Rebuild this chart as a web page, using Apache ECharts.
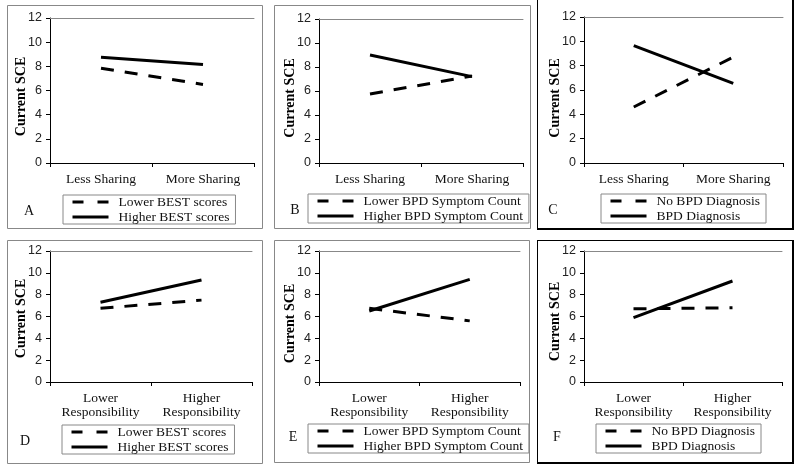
<!DOCTYPE html>
<html>
<head>
<meta charset="utf-8">
<script src="https://cdn.jsdelivr.net/npm/echarts@6/dist/echarts.min.js"></script>
<style>html,body{margin:0;padding:0;background:#fff;}#c{width:800px;height:470px;}</style>
</head>
<body>
<div id="c"></div>
<script>
// ---- data ----
const sharingCats = ['Less Sharing', 'More Sharing'];
const respCats = ['Lower\nResponsibility', 'Higher\nResponsibility'];
const yTicks = [0, 2, 4, 6, 8, 10, 12];

const lowerBEST_share = [7.85, 6.5];
const higherBEST_share = [8.75, 8.15];
const lowerBPD_share = [5.75, 7.25];
const higherBPD_share = [9.0, 7.2];
const noBPD_share = [4.6, 8.7];
const bpd_share = [9.65, 6.55];

const lowerBEST_resp = [6.75, 7.5];
const higherBEST_resp = [7.3, 9.35];
const lowerBPD_resp = [6.75, 5.6];
const higherBPD_resp = [6.5, 9.4];
const noBPD_resp = [6.7, 6.8];
const bpd_resp = [5.9, 9.25];

const panelLetters = ['A', 'B', 'C', 'D', 'E', 'F'];
const namesBEST = ['Lower BEST scores', 'Higher BEST scores'];
const namesBPD = ['Lower BPD Symptom Count', 'Higher BPD Symptom Count'];
const namesDx = ['No BPD Diagnosis', 'BPD Diagnosis'];

// ---- layout ----
const panels = [
  {grid: {left: 50, top: 18, width: 204, height: 145}, cats: sharingCats, names: namesBEST, data: [lowerBEST_share, higherBEST_share], legend: {left: 63, top: 195}, letter: [29, 211], nameShift: 6},
  {grid: {left: 319, top: 19, width: 204, height: 144}, cats: sharingCats, names: namesBPD, data: [lowerBPD_share, higherBPD_share], legend: {left: 308, top: 194}, letter: [295, 210], nameShift: 7},
  {grid: {left: 584, top: 17, width: 199, height: 146}, cats: sharingCats, names: namesDx, data: [noBPD_share, bpd_share], legend: {left: 601, top: 194}, letter: [553, 210], nameShift: 8},
  {grid: {left: 50, top: 251, width: 202, height: 131}, cats: respCats, names: namesBEST, data: [lowerBEST_resp, higherBEST_resp], legend: {left: 62, top: 425}, letter: [25, 441], nameShift: 2},
  {grid: {left: 319, top: 251, width: 201, height: 131}, cats: respCats, names: namesBPD, data: [lowerBPD_resp, higherBPD_resp], legend: {left: 308, top: 424}, letter: [293, 437], nameShift: 7},
  {grid: {left: 584, top: 251, width: 198, height: 131}, cats: respCats, names: namesDx, data: [noBPD_resp, bpd_resp], legend: {left: 596, top: 424}, letter: [557, 437], nameShift: 5}
];

const serif = 'Liberation Serif';
const sans = 'Liberation Sans';
const dashPattern = [13, 11];
const legendDash = [11, 14];
const grids = [], xAxes = [], yAxes = [], series = [], legends = [], graphics = [];

panels.forEach((p, i) => {
  grids.push(Object.assign({containLabel: false}, p.grid));
  xAxes.push({
    type: 'category', gridIndex: i, data: p.cats, boundaryGap: true,
    axisLine: {lineStyle: {color: '#000', width: 1}},
    axisTick: {show: true, length: 4, lineStyle: {color: '#000'}},
    axisLabel: {fontFamily: serif, fontSize: 13.5, color: '#111', margin: 9, lineHeight: 14, interval: 0}
  });
  xAxes.push({
    type: 'category', gridIndex: i, data: p.cats, position: 'top',
    axisLine: {lineStyle: {color: '#888', width: 1}},
    axisTick: {show: false}, axisLabel: {show: false}
  });
  yAxes.push({
    type: 'value', gridIndex: i, min: 0, max: 12, interval: 2,
    name: 'Current SCE', nameLocation: 'middle', nameGap: 22, nameMoveOverlap: false,
    nameTextStyle: {fontFamily: serif, fontWeight: 'bold', fontSize: 14, color: '#000',
      padding: [0, p.nameShift * 2, 0, 0]},
    axisLine: {show: true, lineStyle: {color: '#000', width: 1}},
    axisTick: {show: true, length: 4, lineStyle: {color: '#000'}},
    axisLabel: {fontFamily: sans, fontSize: 12.5, color: '#222', margin: 8,
      formatter: v => yTicks.indexOf(v) >= 0 ? String(v) : ''},
    splitLine: {show: false}
  });
  p.names.forEach((nm, k) => {
    series.push({
      type: 'line', name: nm, xAxisIndex: i * 2, yAxisIndex: i,
      data: p.data[k], symbol: 'none', silent: true, animation: false,
      lineStyle: {color: '#000', width: 3, type: k === 0 ? dashPattern : 'solid'},
      itemStyle: {color: '#000'}
    });
  });
  legends.push({
    left: p.legend.left, top: p.legend.top, orient: 'vertical',
    data: p.names.map((nm, k) => ({
      name: nm,
      lineStyle: {color: '#000', width: 3, type: k === 0 ? legendDash : 'solid'},
      itemStyle: {opacity: 0, color: 'rgba(0,0,0,0)', borderWidth: 0}
    })),
    itemStyle: {opacity: 0, color: 'rgba(0,0,0,0)', borderWidth: 0},
    itemWidth: 36, itemHeight: 13, itemGap: 1,
    padding: [0, 6, 0, 8], borderColor: '#888', borderWidth: 1,
    selectedMode: false,
    textStyle: {fontFamily: serif, fontSize: 13.5, color: '#111', padding: [0, 0, 0, 5], lineHeight: 13}
  });
  graphics.push({
    type: 'text', x: p.letter[0], y: p.letter[1],
    style: {text: panelLetters[i], font: '14px "Liberation Serif"', fill: '#111', align: 'center', verticalAlign: 'middle'}
  });
});

// panel frames
const grayFrames = [[7, 5, 255, 223], [274, 5, 256, 223], [7, 240, 255, 223], [274, 240, 255, 222]];
grayFrames.forEach(r => graphics.push({type: 'rect', shape: {x: r[0] + 0.5, y: r[1] + 0.5, width: r[2], height: r[3]}, style: {fill: 'none', stroke: '#888', lineWidth: 1}}));
// black frames (C and F)
[[0, 229], [240, 463]].forEach(v => {
  graphics.push({type: 'line', shape: {x1: 537.5, y1: v[0], x2: 537.5, y2: v[1]}, style: {stroke: '#000', lineWidth: 1}});
  graphics.push({type: 'line', shape: {x1: 793, y1: v[0], x2: 793, y2: v[1] + 1}, style: {stroke: '#000', lineWidth: 2}});
  graphics.push({type: 'line', shape: {x1: 537, y1: v[1], x2: 794, y2: v[1]}, style: {stroke: '#000', lineWidth: 2}});
});
graphics.push({type: 'line', shape: {x1: 537, y1: 240.5, x2: 793, y2: 240.5}, style: {stroke: '#000', lineWidth: 1}});

const chart = echarts.init(document.getElementById('c'), null, {renderer: 'canvas'});
chart.setOption({
  animation: false,
  backgroundColor: '#fff',
  grid: grids, xAxis: xAxes, yAxis: yAxes, series: series, legend: legends,
  graphic: graphics
});
</script>
</body>
</html>
